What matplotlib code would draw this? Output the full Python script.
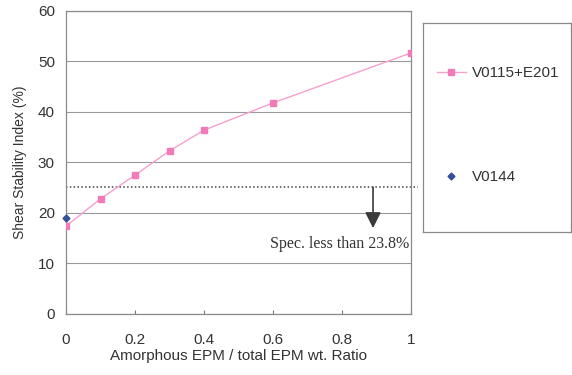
import matplotlib.pyplot as plt
from matplotlib.lines import Line2D

# data
ratio = [0, 0.1, 0.2, 0.3, 0.4, 0.6, 1.0]
ssi_blend = [17.4, 22.8, 27.5, 32.3, 36.4, 41.8, 51.7]
ratio_v0144 = [0]
ssi_v0144 = [19.0]
spec_level = 25.1
arrow_tip = 17.0
x_ticks = [0, 0.2, 0.4, 0.6, 0.8, 1]
x_tick_labels = ["0", "0.2", "0.4", "0.6", "0.8", "1"]
y_ticks = [0, 10, 20, 30, 40, 50, 60]

plt.rcParams['font.family'] = ['Liberation Sans', 'DejaVu Sans']
text_col = '#333333'
pink = '#f27ab8'
blue = '#34509a'

fig = plt.figure(figsize=(5.72, 3.75), dpi=100)
ax = fig.add_axes([0.1154, 0.1627, 0.6031, 0.808])

ax.plot(ratio, ssi_blend, color='#f7a0cc', lw=1.0, marker='s', markersize=4.3,
        markerfacecolor=pink, markeredgecolor=pink, label='V0115+E201', zorder=3)
ax.plot(ratio_v0144, ssi_v0144, linestyle='none', marker='D', markersize=3.5,
        color=blue, label='V0144', zorder=4, clip_on=False)

# spec line and arrow
ax.plot([0, 1.02], [spec_level, spec_level], color='#444444', lw=1.1,
        linestyle=(0, (1, 1.5)), clip_on=False, zorder=2)
ax.annotate('', xy=(0.89, arrow_tip), xytext=(0.89, spec_level),
            arrowprops=dict(arrowstyle='-|>', color='#3a3a3a', lw=1.2,
                            mutation_scale=24, shrinkA=0, shrinkB=0))
ax.text(0.995, 13.8, 'Spec. less than 23.8%', ha='right', va='center',
        fontsize=11.5, color=text_col, family=['Liberation Serif', 'DejaVu Serif'])

ax.set_xlim(0, 1)
ax.set_ylim(0, 60)
ax.set_xticks(x_ticks)
ax.set_xticklabels(x_tick_labels)
ax.set_yticks(y_ticks)
ax.grid(axis='y', color='#9a9a9a', lw=0.8)
ax.set_axisbelow(True)
for s in ax.spines.values():
    s.set_color('#8a8a8a')
    s.set_linewidth(0.9)
ax.tick_params(axis='both', colors='#777777', labelcolor=text_col, labelsize=11,
               length=3)
ax.tick_params(axis='x', direction='in', pad=14)
ax.tick_params(axis='y', length=0, pad=8)
ax.set_ylabel('Shear Stability Index (%)', fontsize=10, color=text_col, labelpad=8)
ax.set_xlabel('Amorphous EPM / total EPM wt. Ratio', fontsize=11, color=text_col,
              labelpad=1)

# legend panel
lax = fig.add_axes([0.7395, 0.3813, 0.2587, 0.5573])
lax.set_xticks([])
lax.set_yticks([])
for s in lax.spines.values():
    s.set_color('#8a8a8a')
    s.set_linewidth(0.9)
handles = [Line2D([], [], color='#f7a0cc', lw=1.0, marker='s', markersize=4,
                  markerfacecolor=pink, markeredgecolor=pink),
           Line2D([], [], linestyle='none', marker='D', markersize=3.5, color=blue)]
lax.legend(handles, ['V0115+E201', 'V0144'], loc='center left',
           bbox_to_anchor=(0.0, 0.51), frameon=False, labelspacing=5.9,
           fontsize=11, labelcolor=text_col, handlelength=1.9, handletextpad=0.4)

fig.savefig('out.png', dpi=100)
